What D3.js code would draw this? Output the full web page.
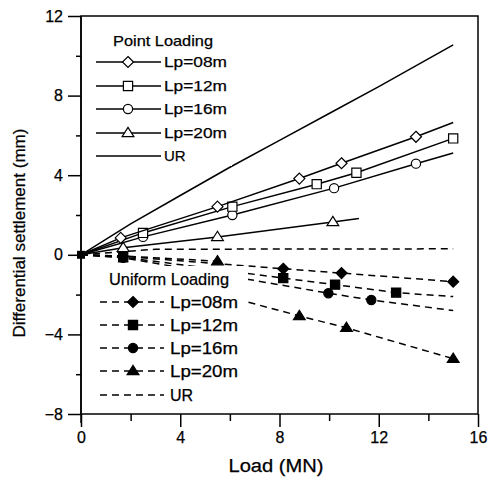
<!DOCTYPE html>
<html><head><meta charset="utf-8">
<script src="https://cdn.jsdelivr.net/npm/d3@7"></script>
<style>body{margin:0;background:#fff}svg{display:block}text{font-family:"Liberation Sans",Arial,sans-serif;fill:#000;stroke:#000;stroke-width:0.25px}</style>
</head><body><svg id="c" width="489" height="477"></svg>
<script>
// ---------- data ----------
const xTicks = [0, 4, 8, 12, 16];
const xMinor = [2, 6, 10, 14];
const yTicks = [-8, -4, 0, 4, 8, 12];
const yMinor = [-6, -2, 2, 6, 10];
const seriesNames = ["Lp=08m", "Lp=12m", "Lp=16m", "Lp=20m", "UR"];

// Point loading (open markers, solid lines)
const pl08Load = [0, 1.6, 5.5, 8.8, 10.5, 13.5, 15.0];
const pl08Val  = [0, 0.85, 2.42, 3.83, 4.6, 5.93, 6.65];
const pl08Mark = [1.6, 5.5, 8.8, 10.5, 13.5];
const pl12Load = [0, 2.5, 6.1, 9.5, 11.1, 15.0];
const pl12Val  = [0, 1.1, 2.42, 3.55, 4.12, 5.85];
const pl12Mark = [2.5, 6.1, 9.5, 11.1, 15.0];
const pl16Load = [0, 2.5, 6.1, 10.2, 13.5, 15.0];
const pl16Val  = [0, 0.9, 2.0, 3.35, 4.58, 5.12];
const pl16Mark = [2.5, 6.1, 10.2, 13.5];
const pl20Load = [0, 1.7, 5.5, 10.15, 11.2];
const pl20Val  = [0, 0.35, 0.9, 1.65, 1.83];
const pl20Mark = [1.7, 5.5, 10.15];
const plURLoad = [0, 2, 4, 6, 8, 10, 12, 15];
const plURVal  = [0, 1.55, 2.98, 4.4, 5.75, 7.1, 8.45, 10.55];

// Uniform loading (filled markers, dashed lines)
const ul08Load = [0, 1.7, 8.15, 10.5, 15.0];
const ul08Val  = [0, -0.08, -0.7, -0.92, -1.35];
const ul08Mark = [1.7, 8.15, 10.5, 15.0];
const ul12Load = [0, 1.7, 8.15, 10.24, 12.7, 15.0];
const ul12Val  = [0, -0.12, -1.17, -1.5, -1.9, -2.1];
const ul12Mark = [1.7, 8.15, 10.24, 12.7];
const ul16Load = [0, 1.7, 9.97, 11.7, 15.0];
const ul16Val  = [0, -0.15, -1.93, -2.27, -2.8];
const ul16Mark = [1.7, 9.97, 11.7];
const ul20Load = [0, 1.7, 5.5, 6.2, 8.8, 10.7, 15.0];
const ul20Val  = [0, -0.06, -0.32, -2.2, -3.07, -3.67, -5.22];
const ul20Mark = [5.5, 8.8, 10.7, 15.0];
const ulURLoad = [0, 3, 15.0];
const ulURVal  = [0, 0.28, 0.3];

// ---------- drawing ----------
const svg = d3.select("#c");
const x = d3.scaleLinear().domain([0, 16]).range([81, 478]);
const y = d3.scaleLinear().domain([-8, 12]).range([414, 16]);

const shapes = {
  diamond: r => `M0,${-r}L${r},0L0,${r}L${-r},0Z`,
  square: r => `M${-r},${-r}H${r}V${r}H${-r}Z`,
  circle: r => `M${r},0A${r},${r} 0 1,1 ${-r},0A${r},${r} 0 1,1 ${r},0Z`,
  triangle: r => `M0,${-r}L${r * 1.05},${r * 0.65}L${-r * 1.05},${r * 0.65}Z`
};
const shapeSize = {diamond: 5.5, square: 4.6, circle: 4.6, triangle: 5.6};

function interp(loads, vals, l) {
  for (let i = 1; i < loads.length; i++) {
    if (l <= loads[i] + 1e-9) {
      const t = (l - loads[i - 1]) / (loads[i] - loads[i - 1]);
      return vals[i - 1] + t * (vals[i] - vals[i - 1]);
    }
  }
  return vals[vals.length - 1];
}

const plot = svg.append("g");
const line = d3.line().x(d => x(d[0])).y(d => y(d[1]));

function drawSeries(loads, vals, marks, shape, filled, dashed) {
  const pts = loads.map((l, i) => [l, vals[i]]);
  plot.append("path").attr("d", line(pts)).attr("fill", "none")
    .attr("stroke", "#000").attr("stroke-width", 1.5)
    .attr("stroke-dasharray", dashed ? "7,5" : null);
  if (marks && shape) {
    plot.selectAll(null).data(marks).enter().append("path")
      .attr("d", shapes[shape](shapeSize[shape]))
      .attr("transform", m => `translate(${x(m)},${y(interp(loads, vals, m))})`)
      .attr("fill", filled ? "#000" : "#fff")
      .attr("stroke", "#000").attr("stroke-width", 1.2);
  }
}

drawSeries(ulURLoad, ulURVal, null, null, true, true);
drawSeries(ul08Load, ul08Val, ul08Mark, "diamond", true, true);
drawSeries(ul12Load, ul12Val, ul12Mark, "square", true, true);
drawSeries(ul16Load, ul16Val, ul16Mark, "circle", true, true);
drawSeries(ul20Load, ul20Val, ul20Mark, "triangle", true, true);
drawSeries(plURLoad, plURVal, null, null, false, false);
drawSeries(pl20Load, pl20Val, pl20Mark, "triangle", false, false);
drawSeries(pl16Load, pl16Val, pl16Mark, "circle", false, false);
drawSeries(pl12Load, pl12Val, pl12Mark, "square", false, false);
drawSeries(pl08Load, pl08Val, pl08Mark, "diamond", false, false);
plot.append("rect").attr("x", x(0) - 4).attr("y", y(0) - 4).attr("width", 8).attr("height", 8).attr("fill", "#000");

// ---------- axes ----------
const ax = svg.append("g");
ax.append("rect").attr("x", x(0)).attr("y", y(12)).attr("width", x(16) - x(0)).attr("height", y(-8) - y(12))
  .attr("fill", "none").attr("stroke", "#000").attr("stroke-width", 1.5);

ax.append("g").attr("transform", `translate(${x(0)},0)`)
  .call(d3.axisLeft(y).tickValues(yTicks).tickSize(13).tickPadding(5).tickFormat(d3.format("d")));
ax.append("g").attr("transform", `translate(${x(0)},0)`)
  .call(d3.axisLeft(y).tickValues(yMinor).tickSize(5).tickFormat(""));
ax.append("g").attr("transform", `translate(0,${y(-8)})`)
  .call(d3.axisBottom(x).tickValues(xTicks).tickSize(13).tickPadding(5).tickFormat(d3.format("d")));
ax.append("g").attr("transform", `translate(0,${y(-8)})`)
  .call(d3.axisBottom(x).tickValues(xMinor).tickSize(7).tickFormat(""));
ax.selectAll(".domain").remove();
ax.selectAll(".tick line").attr("stroke", "#000").attr("stroke-width", 1.5);
ax.selectAll(".tick text").attr("font-size", 16).attr("font-family", '"Liberation Sans",Arial,sans-serif');
ax.append("line").attr("x1", x(0)).attr("x2", x(0)).attr("y1", y(12)).attr("y2", y(-8) + 9)
  .attr("stroke", "#000").attr("stroke-width", 1.5);

svg.append("text").attr("x", 276).attr("y", 472).attr("text-anchor", "middle")
  .attr("font-size", 18).attr("textLength", 95).attr("lengthAdjust", "spacingAndGlyphs").text("Load (MN)");
svg.append("text").attr("transform", "translate(25,233) rotate(-90)").attr("text-anchor", "middle")
  .attr("font-size", 17).attr("textLength", 209).attr("lengthAdjust", "spacingAndGlyphs")
  .text("Differential settlement (mm)");

// ---------- legends ----------
function legend(title, titleX, titleY, titleW, rowYs, x1, x2, mx, tx, fs, tw, shapesList, filled, dashed, boxRect) {
  const g = svg.append("g");
  g.append("rect").attr("x", boxRect[0]).attr("y", boxRect[1]).attr("width", boxRect[2]).attr("height", boxRect[3]).attr("fill", "#fff");
  g.append("text").attr("x", titleX).attr("y", titleY).attr("font-size", fs)
    .attr("textLength", titleW).attr("lengthAdjust", "spacingAndGlyphs").text(title);
  seriesNames.forEach((n, i) => {
    const yy = rowYs[i];
    g.append("line").attr("x1", x1).attr("x2", x2).attr("y1", yy).attr("y2", yy)
      .attr("stroke", "#000").attr("stroke-width", 1.4).attr("stroke-dasharray", dashed ? "7,5" : null);
    if (shapesList[i]) {
      g.append("path").attr("d", shapes[shapesList[i]](shapeSize[shapesList[i]]))
        .attr("transform", `translate(${mx},${yy})`)
        .attr("fill", filled ? "#000" : "#fff").attr("stroke", "#000").attr("stroke-width", 1.2);
    }
    g.append("text").attr("x", tx).attr("y", yy + fs * 0.36).attr("font-size", fs)
      .attr("textLength", n === "UR" ? null : tw).attr("lengthAdjust", "spacingAndGlyphs").text(n);
  });
}
const mk = ["diamond", "square", "circle", "triangle", null];
legend("Point Loading", 113, 46, 100, [62, 86, 109, 133, 156], 96, 161, 128, 164, 15, 63, mk, false, false, [92, 26, 140, 140]);
legend("Uniform Loading", 109, 285, 120, [302, 325, 348, 371, 395], 100, 164, 133, 170, 16, 68, mk, true, true, [95, 266, 153, 140]);
</script></body></html>
